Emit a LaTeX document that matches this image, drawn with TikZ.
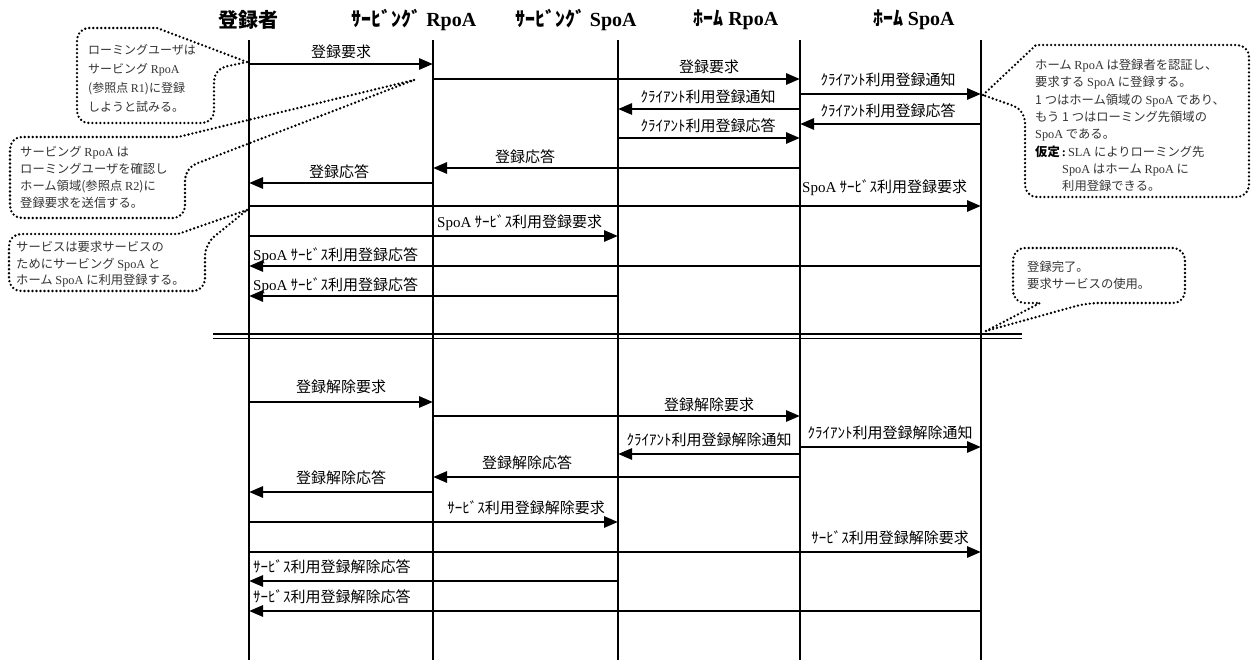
\documentclass[tikz,border=0pt]{standalone}
\usepackage{fontspec}
\setmainfont{Liberation Serif}
\newfontfamily\jp{Noto Sans CJK JP}
\usetikzlibrary{arrows.meta}
\newcommand\latn[1]{{\rmfamily #1}}
\begin{document}
\begin{tikzpicture}[x=1pt,y=-1pt,
  life/.style={line width=2.8pt},
  msg/.style={line width=2.8pt,-{Triangle[length=14pt,width=11pt]}},
  lbl/.style={inner sep=0pt,font={\jp\fontsize{15}{17}\selectfont}},
  hdr/.style={inner sep=0pt,font={\jp\bfseries\fontsize{20}{22}\selectfont}},
  bubble/.style={line width=2.6pt,dash pattern=on 0pt off 4pt,line cap=round,line join=round},
  btxt/.style={inner sep=0pt,align=left,anchor=north west,text=black!80,font={\jp\fontsize{12.3}{17}\selectfont}},
  sep/.style={line width=1.8pt}]
\useasboundingbox (0,0) rectangle (1253,660);

% lifelines
\coordinate (u1) at (249,40); \coordinate (d1) at (249,660);
\coordinate (u2) at (433,40); \coordinate (d2) at (433,660);
\coordinate (u3) at (618,40); \coordinate (d3) at (618,660);
\coordinate (u4) at (800,40); \coordinate (d4) at (800,660);
\coordinate (u5) at (981,40); \coordinate (d5) at (981,660);
\foreach \i in {1,...,5} \draw[life] (u\i) -- (d\i);

% headers
\node[hdr] (h1) at (248,20) {登録者};
\node[hdr] (h2) at (414,20) {ｻｰﾋﾞﾝｸﾞ \latn{RpoA}};
\node[hdr] (h3) at (576,20) {ｻｰﾋﾞﾝｸﾞ \latn{SpoA}};
\node[hdr] (h4) at (736,20) {ﾎｰﾑ \latn{RpoA}};
\node[hdr] (h5) at (914,20) {ﾎｰﾑ \latn{SpoA}};

% separator
\coordinate (sL1) at (213,334); \coordinate (sR1) at (1022,334);
\coordinate (sL2) at (213,338.5); \coordinate (sR2) at (1022,338.5);
\draw[sep] (sL1) -- (sR1);
\draw[sep] (sL2) -- (sR2);

% upper messages
\draw[msg] (u1 |- 0,64) -- (u2 |- 0,64);
\draw[msg] (u2 |- 0,79) -- (u4 |- 0,79);
\draw[msg] (u4 |- 0,94) -- (u5 |- 0,94);
\draw[msg] (u4 |- 0,109) -- (u3 |- 0,109);
\draw[msg] (u5 |- 0,124) -- (u4 |- 0,124);
\draw[msg] (u3 |- 0,138) -- (u4 |- 0,138);
\draw[msg] (u4 |- 0,168) -- (u2 |- 0,168);
\draw[msg] (u2 |- 0,183) -- (u1 |- 0,183);
\draw[msg] (u1 |- 0,206) -- (u5 |- 0,206);
\draw[msg] (u1 |- 0,236) -- (u3 |- 0,236);
\draw[msg] (u5 |- 0,266) -- (u1 |- 0,266);
\draw[msg] (u3 |- 0,296) -- (u1 |- 0,296);

\node[lbl] (m1) at (341,52) {登録要求};
\node[lbl] (m2) at (709,67) {登録要求};
\node[lbl] (m3) at (888,80) {ｸﾗｲｱﾝﾄ利用登録通知};
\node[lbl] (m4) at (708,97) {ｸﾗｲｱﾝﾄ利用登録通知};
\node[lbl] (m5) at (888,111) {ｸﾗｲｱﾝﾄ利用登録応答};
\node[lbl] (m6) at (708,126) {ｸﾗｲｱﾝﾄ利用登録応答};
\node[lbl] (m7) at (525,157) {登録応答};
\node[lbl] (m8) at (339,172) {登録応答};
\node[lbl,anchor=west] (m9) at (802,188) {\latn{SpoA} ｻｰﾋﾞｽ利用登録要求};
\node[lbl,anchor=west] (m10) at (437,223) {\latn{SpoA} ｻｰﾋﾞｽ利用登録要求};
\node[lbl,anchor=west] (m11) at (253,256) {\latn{SpoA} ｻｰﾋﾞｽ利用登録応答};
\node[lbl,anchor=west] (m12) at (253,286) {\latn{SpoA} ｻｰﾋﾞｽ利用登録応答};

% lower messages
\draw[msg] (u1 |- 0,402) -- (u2 |- 0,402);
\draw[msg] (u2 |- 0,416) -- (u4 |- 0,416);
\draw[msg] (u4 |- 0,447) -- (u5 |- 0,447);
\draw[msg] (u4 |- 0,454) -- (u3 |- 0,454);
\draw[msg] (u4 |- 0,477) -- (u2 |- 0,477);
\draw[msg] (u2 |- 0,492) -- (u1 |- 0,492);
\draw[msg] (u1 |- 0,522) -- (u3 |- 0,522);
\draw[msg] (u1 |- 0,552) -- (u5 |- 0,552);
\draw[msg] (u3 |- 0,581) -- (u1 |- 0,581);
\draw[msg] (u5 |- 0,611) -- (u1 |- 0,611);

\node[lbl] (n1) at (341,387) {登録解除要求};
\node[lbl] (n2) at (709,405) {登録解除要求};
\node[lbl] (n3) at (890,433) {ｸﾗｲｱﾝﾄ利用登録解除通知};
\node[lbl] (n4) at (709,440) {ｸﾗｲｱﾝﾄ利用登録解除通知};
\node[lbl] (n5) at (527,463) {登録解除応答};
\node[lbl] (n6) at (341,478) {登録解除応答};
\node[lbl] (n7) at (526,508) {ｻｰﾋﾞｽ利用登録解除要求};
\node[lbl] (n8) at (890,538) {ｻｰﾋﾞｽ利用登録解除要求};
\node[lbl,anchor=west] (n9) at (253,567) {ｻｰﾋﾞｽ利用登録解除応答};
\node[lbl,anchor=west] (n10) at (253,597) {ｻｰﾋﾞｽ利用登録解除応答};

% callout 1
\coordinate (a1) at (247,62);
\draw[bubble] (a1) -- (157,28) [rounded corners=12pt] -- (77,28) -- (77,123) -- (214,123) -- (214,69) [sharp corners] -- cycle;
\node[btxt,font={\jp\fontsize{12}{19}\selectfont}] (c1) at (88,44) {ローミングユーザは\\サービング \latn{RpoA}\\(参照点 \latn{R1})に登録\\しようと試みる。};

% callout 2
\coordinate (a2) at (414,80);
\draw[bubble] (a2) -- (178,137) [rounded corners=12pt] -- (10,137) -- (10,218) -- (185,218) -- (185,168) [sharp corners] -- cycle;
\node[btxt] (c2) at (20,146) {サービング \latn{RpoA} は\\ローミングユーザを確認し\\ホーム領域(参照点 \latn{R2})に\\登録要求を送信する。};

% callout 3
\coordinate (a3) at (247,210);
\draw[bubble] (a3) -- (178,234) [rounded corners=12pt] -- (9,234) -- (9,291) -- (205,291) -- (205,244) [sharp corners] -- cycle;
\node[btxt,font={\jp\fontsize{12.3}{16.5}\selectfont}] (c3) at (16,241) {サービスは要求サービスの\\ためにサービング \latn{SpoA} と\\ホーム \latn{SpoA} に利用登録する。};

% callout 4
\coordinate (a4) at (983,95);
\draw[bubble] (a4) -- (1036,45) [rounded corners=12pt] -- (1249,45) -- (1249,197) -- (1025,197) -- (1025,110) [sharp corners] -- cycle;
\node[btxt,font={\jp\fontsize{12.3}{17.3}\selectfont}] (c4) at (1035,59) {ホーム \latn{RpoA} は登録者を認証し、\\要求する \latn{SpoA} に登録する。\\1 つはホーム領域の \latn{SpoA} であり、\\もう 1 つはローミング先領域の\\\latn{SpoA} である。\\{\color{black}\bfseries 仮定\,\latn{:}}\,\latn{SLA} によりローミング先\\\hspace*{27pt}\latn{SpoA} はホーム \latn{RpoA} に\\\hspace*{27pt}利用登録できる。};

% callout 5
\coordinate (a5) at (986,331);
\draw[bubble] (a5) -- (1040,303) [rounded corners=12pt] -- (1013,303) -- (1013,248) -- (1185,248) -- (1185,303) -- (1087,303) [sharp corners] -- cycle;
\node[btxt] (c5) at (1027,261) {登録完了。\\要求サービスの使用。};
\end{tikzpicture}
\end{document}
